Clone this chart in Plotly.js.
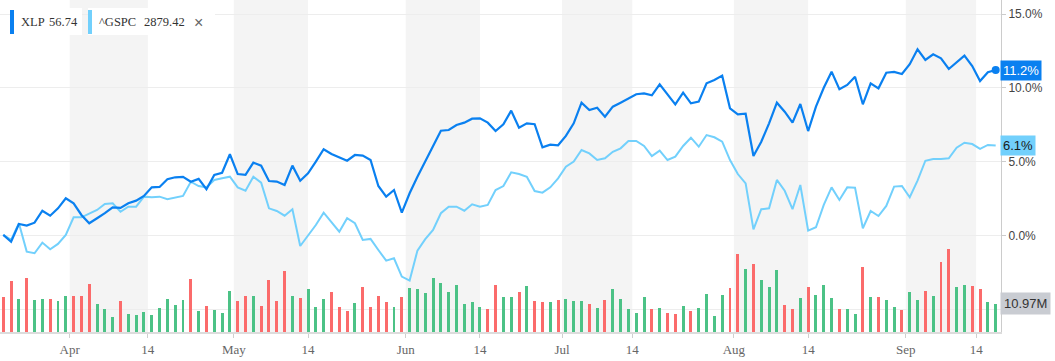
<!DOCTYPE html>
<html>
<head>
<meta charset="utf-8">
<script src="https://cdn.plot.ly/plotly-3.0.1.min.js"></script>
<style>
html,body{margin:0;padding:0;background:#fff;overflow:hidden;}
#chart{width:1055px;height:361px;}
</style>
</head>
<body>
<div id="chart"></div>
<script>
// ---- data ----
const startDate = '2019-03-19';
const endDate = '2019-09-18';
const holidays = ['2019-04-19', '2019-05-27', '2019-07-04', '2019-09-02'];
const monthLabels = ['Apr', 'May', 'Jun', 'Jul', 'Aug', 'Sep'];
const monthNumbers = [4, 5, 6, 7, 8, 9];
const midLabel = '14';

const seriesNames = ['XLP', '^GSPC'];
const seriesQuotes = ['56.74', '2879.42'];

// % change since start
const xlpPct = [0.05,-0.41,0.79,0.68,0.88,1.69,1.35,1.85,2.53,2.19,
1.40,0.84,1.18,1.52,1.92,1.88,2.19,2.37,2.69,3.27,
3.30,3.82,3.95,3.98,3.65,3.84,3.14,4.11,4.26,5.51,
4.17,4.11,4.94,4.74,3.70,3.66,3.43,4.74,3.72,4.22,
5.01,5.85,5.53,5.30,5.07,5.46,5.42,5.12,3.36,2.64,
3.09,1.56,2.87,3.99,5.01,6.07,7.10,7.15,7.49,7.65,
7.92,7.94,7.65,7.08,7.54,8.46,7.31,7.60,7.54,5.98,
6.16,6.12,6.75,7.60,9.00,8.50,8.66,8.05,8.73,9.00,
9.30,9.57,9.63,9.50,10.24,9.57,8.89,9.68,8.96,9.07,
10.31,10.53,10.83,8.62,8.21,8.25,5.39,6.36,7.60,9.00,
8.39,7.65,8.91,7.08,8.73,10.01,11.10,9.91,10.20,10.76,
8.89,10.31,9.97,11.03,11.08,10.94,11.60,12.61,11.89,12.27,
12.00,11.28,11.73,12.18,11.48,10.47,11.06,11.21];

const gspcPct = [0.05,-0.29,0.84,-1.08,-1.19,-0.47,-0.92,-0.56,0.05,1.24,
1.24,1.47,1.74,2.14,2.19,1.62,1.96,1.96,2.64,2.60,
2.64,2.46,2.60,2.69,3.65,3.36,3.27,3.77,3.88,3.99,
3.27,3.04,3.99,3.59,1.85,1.67,1.35,1.79,-0.70,0.05,
0.72,1.56,0.95,0.27,1.18,0.84,-0.29,-0.22,-0.97,-1.69,
-1.53,-2.77,-3.04,-1.01,-0.24,0.39,1.52,1.96,1.96,1.69,
2.12,1.96,2.08,3.09,3.36,4.29,4.17,3.99,3.02,2.91,
3.27,3.88,4.67,5.01,5.80,5.57,5.12,5.24,5.68,5.91,
6.41,6.41,6.07,5.39,5.75,5.12,5.35,6.07,6.63,6.02,
6.81,6.66,6.36,5.12,4.17,3.54,0.43,1.79,1.85,3.77,
3.04,1.79,3.43,0.34,0.57,2.08,3.27,2.42,3.27,3.25,
0.50,1.67,1.33,2.01,3.32,3.36,2.60,3.72,5.07,5.19,
5.19,5.24,5.95,6.29,6.20,5.87,6.14,6.10];

// XLP volume, millions
const volumeM = [13.7,20.0,12.8,21.1,12.4,12.8,12.8,12.0,14.0,14.0,
14.0,18.8,10.8,8.9,6.0,12.0,6.9,6.5,7.7,6.5,
9.3,12.8,10.4,12.4,20.6,8.1,10.1,8.5,7.3,15.9,
12.0,14.0,14.0,10.1,20.2,12.0,23.8,14.0,13.2,16.7,
9.7,12.8,15.5,9.7,8.1,11.2,17.5,9.7,14.0,11.6,
9.7,13.6,17.1,16.7,15.1,21.0,19.1,15.5,18.3,10.8,
11.6,9.7,8.9,18.3,13.6,13.6,15.5,17.9,12.0,11.6,
11.6,12.4,12.8,12.0,12.0,10.8,9.3,12.4,16.7,12.8,
8.9,7.3,13.6,8.9,9.3,7.3,6.9,10.1,8.1,9.3,
14.8,6.1,14.4,17.1,30.4,24.5,26.5,20.2,17.5,24.2,
10.4,8.9,13.2,17.5,14.4,18.3,13.2,8.9,8.9,6.9,
25.3,13.6,13.6,12.4,9.7,8.5,15.5,12.4,15.9,14.0,
27.3,32.4,17.5,18.3,17.9,16.7,11.6,10.97];

// U = up day, D = down day
const volumeDir = ('DDUDUUDUUD' + 'DDUUUDUUUU' + 'UUUUDUDUUU' + 'DDUDDDDUDU' + 'UUDDDUDDDD' +
  'UDUUUUUUUU' + 'UUDDUUDUDD' + 'UDUUUDUDUU' + 'UUUDUDDUDU' + 'UUUDDUDUUU' +
  'DDUDUUUDUU' + 'DUDUUDUUDU' + 'DDUUDDUU').split('');

const yTicks = [-5, 0, 5, 10, 15];

// ---- derived ----
function tradingDays(start, end, hol) {
  const out = [];
  let d = new Date(start + 'T00:00:00Z');
  const e = new Date(end + 'T00:00:00Z');
  while (d <= e) {
    const wd = d.getUTCDay();
    const s = d.toISOString().slice(0, 10);
    if (wd !== 0 && wd !== 6 && hol.indexOf(s) < 0) out.push(s);
    d = new Date(d.getTime() + 86400000);
  }
  return out;
}
const dates = tradingDays(startDate, endDate, holidays);
const idx = dates.map((_, i) => i);
const mon = s => +s.slice(5, 7);
const day = s => +s.slice(8, 10);

const tickvals = [], ticktext = [], bands = [];
monthNumbers.forEach((m, k) => {
  const f = dates.findIndex(s => mon(s) === m);
  const mpos = f - 0.5;
  const j = dates.findIndex(s => mon(s) === m && day(s) >= 14);
  const hpos = day(dates[j]) === 14 ? j : j - 0.5;
  tickvals.push(mpos, hpos);
  ticktext.push(monthLabels[k], midLabel);
  bands.push([mpos, hpos]);
});

const C_XLP = '#0a80f0';
const C_SPX = '#72d0fc';
const C_UP = '#4cc286';
const C_DN = '#fb6b6b';

const W = 1055, H = 361, ML = 0, MR = 54, MT = 0, MB = 29;
const PW = W - ML - MR, PH = H - MT - MB;
const px = x => x / PW;
const py = y => 1 - y / PH;

const shapes = bands.map(b => ({
  type: 'rect', xref: 'x', yref: 'paper', x0: b[0], x1: b[1], y0: 0, y1: 1,
  fillcolor: '#f4f4f4', line: {width: 0}, layer: 'below'
}));

// legend chips
shapes.push(
  {type:'rect', xref:'paper', yref:'paper', x0:px(10), x1:px(82), y0:py(35), y1:py(8), fillcolor:'#fff', line:{width:0}, layer:'above'},
  {type:'rect', xref:'paper', yref:'paper', x0:px(10), x1:px(14), y0:py(34), y1:py(10), fillcolor:C_XLP, line:{width:0}, layer:'above'},
  {type:'rect', xref:'paper', yref:'paper', x0:px(88), x1:px(215), y0:py(35), y1:py(8), fillcolor:'#fff', line:{width:0}, layer:'above'},
  {type:'rect', xref:'paper', yref:'paper', x0:px(88), x1:px(92), y0:py(34), y1:py(10), fillcolor:C_SPX, line:{width:0}, layer:'above'}
);

const legFont = {family:'Liberation Serif, Times New Roman, serif', size:12.5, color:'#333'};
const annotations = [
  {xref:'paper', yref:'paper', x:px(19), y:py(22), xanchor:'left', yanchor:'middle', showarrow:false, text:seriesNames[0], font:legFont},
  {xref:'paper', yref:'paper', x:px(47), y:py(22), xanchor:'left', yanchor:'middle', showarrow:false, text:seriesQuotes[0], font:legFont},
  {xref:'paper', yref:'paper', x:px(97), y:py(22), xanchor:'left', yanchor:'middle', showarrow:false, text:seriesNames[1], font:legFont},
  {xref:'paper', yref:'paper', x:px(142), y:py(22), xanchor:'left', yanchor:'middle', showarrow:false, text:seriesQuotes[1], font:legFont},
  {xref:'paper', yref:'paper', x:px(198), y:py(22), xanchor:'center', yanchor:'middle', showarrow:false, text:'×', font:{family:'Liberation Sans, Arial, sans-serif', size:16, color:'#666'}},
  // last-value labels
  {xref:'paper', yref:'y2', x:1, xshift:-1, y:xlpPct[xlpPct.length-1], xanchor:'left', yanchor:'middle', showarrow:false,
   text:xlpPct[xlpPct.length-1].toFixed(1) + '%', bgcolor:C_XLP, borderpad:2,
   font:{family:'Liberation Sans, Arial, sans-serif', size:13, color:'#fff'}},
  {xref:'paper', yref:'y2', x:1, xshift:-1, y:gspcPct[gspcPct.length-1], xanchor:'left', yanchor:'middle', showarrow:false,
   text:gspcPct[gspcPct.length-1].toFixed(1) + '%', bgcolor:C_SPX, borderpad:2,
   font:{family:'Liberation Sans, Arial, sans-serif', size:13, color:'#1a1a1a'}},
  {xref:'paper', yref:'y', x:1, xshift:-1, y:volumeM[volumeM.length-1], xanchor:'left', yanchor:'middle', showarrow:false,
   text:volumeM[volumeM.length-1].toFixed(2) + 'M', bgcolor:'#c9ccd2', borderpad:3,
   font:{family:'Liberation Sans, Arial, sans-serif', size:13, color:'#333'}}
];

const traces = [
  {type:'bar', x:idx, y:volumeM, yaxis:'y', width:0.38,
   marker:{color:volumeDir.map(d => d === 'U' ? C_UP : C_DN), line:{width:0}}, hoverinfo:'skip'},
  {type:'scatter', mode:'lines', x:idx, y:gspcPct, yaxis:'y2', line:{color:C_SPX, width:2}, hoverinfo:'skip'},
  {type:'scatter', mode:'lines', x:idx, y:xlpPct, yaxis:'y2', line:{color:C_XLP, width:2.2}, hoverinfo:'skip'},
  {type:'scatter', mode:'markers', x:[idx[idx.length-1]], y:[xlpPct[xlpPct.length-1]], yaxis:'y2',
   marker:{color:C_XLP, size:8}, hoverinfo:'skip', cliponaxis:false}
];

const layout = {
  width:W, height:H,
  margin:{l:ML, r:MR, t:MT, b:MB, pad:0},
  paper_bgcolor:'#fff', plot_bgcolor:'#fff',
  showlegend:false,
  bargap:0,
  xaxis:{range:[-0.42, 127.68], tickmode:'array', tickvals:tickvals, ticktext:ticktext,
    ticks:'outside', ticklen:4, tickcolor:'#cfcfcf', showline:true, linecolor:'#dcdcdc', linewidth:2,
    showgrid:false, zeroline:false, fixedrange:true,
    tickfont:{family:'Liberation Serif, Times New Roman, serif', size:13, color:'#666'}},
  yaxis:{range:[0, 130], visible:false, showgrid:false, zeroline:false, fixedrange:true},
  yaxis2:{overlaying:'y', side:'right', range:[-6.52, 15.95], tickmode:'array', tickvals:yTicks,
    ticktext:yTicks.map(v => v.toFixed(1) + '%'),
    showgrid:true, gridcolor:'#ededed', gridwidth:1, zeroline:false,
    showline:true, linecolor:'#cccccc', linewidth:1, ticks:'outside', ticklen:4, tickcolor:'#cccccc',
    tickfont:{family:'Liberation Sans, Arial, sans-serif', size:12, color:'#444'}, fixedrange:true},
  shapes:shapes,
  annotations:annotations
};

Plotly.newPlot('chart', traces, layout, {displayModeBar:false, staticPlot:true});
</script>
</body>
</html>
